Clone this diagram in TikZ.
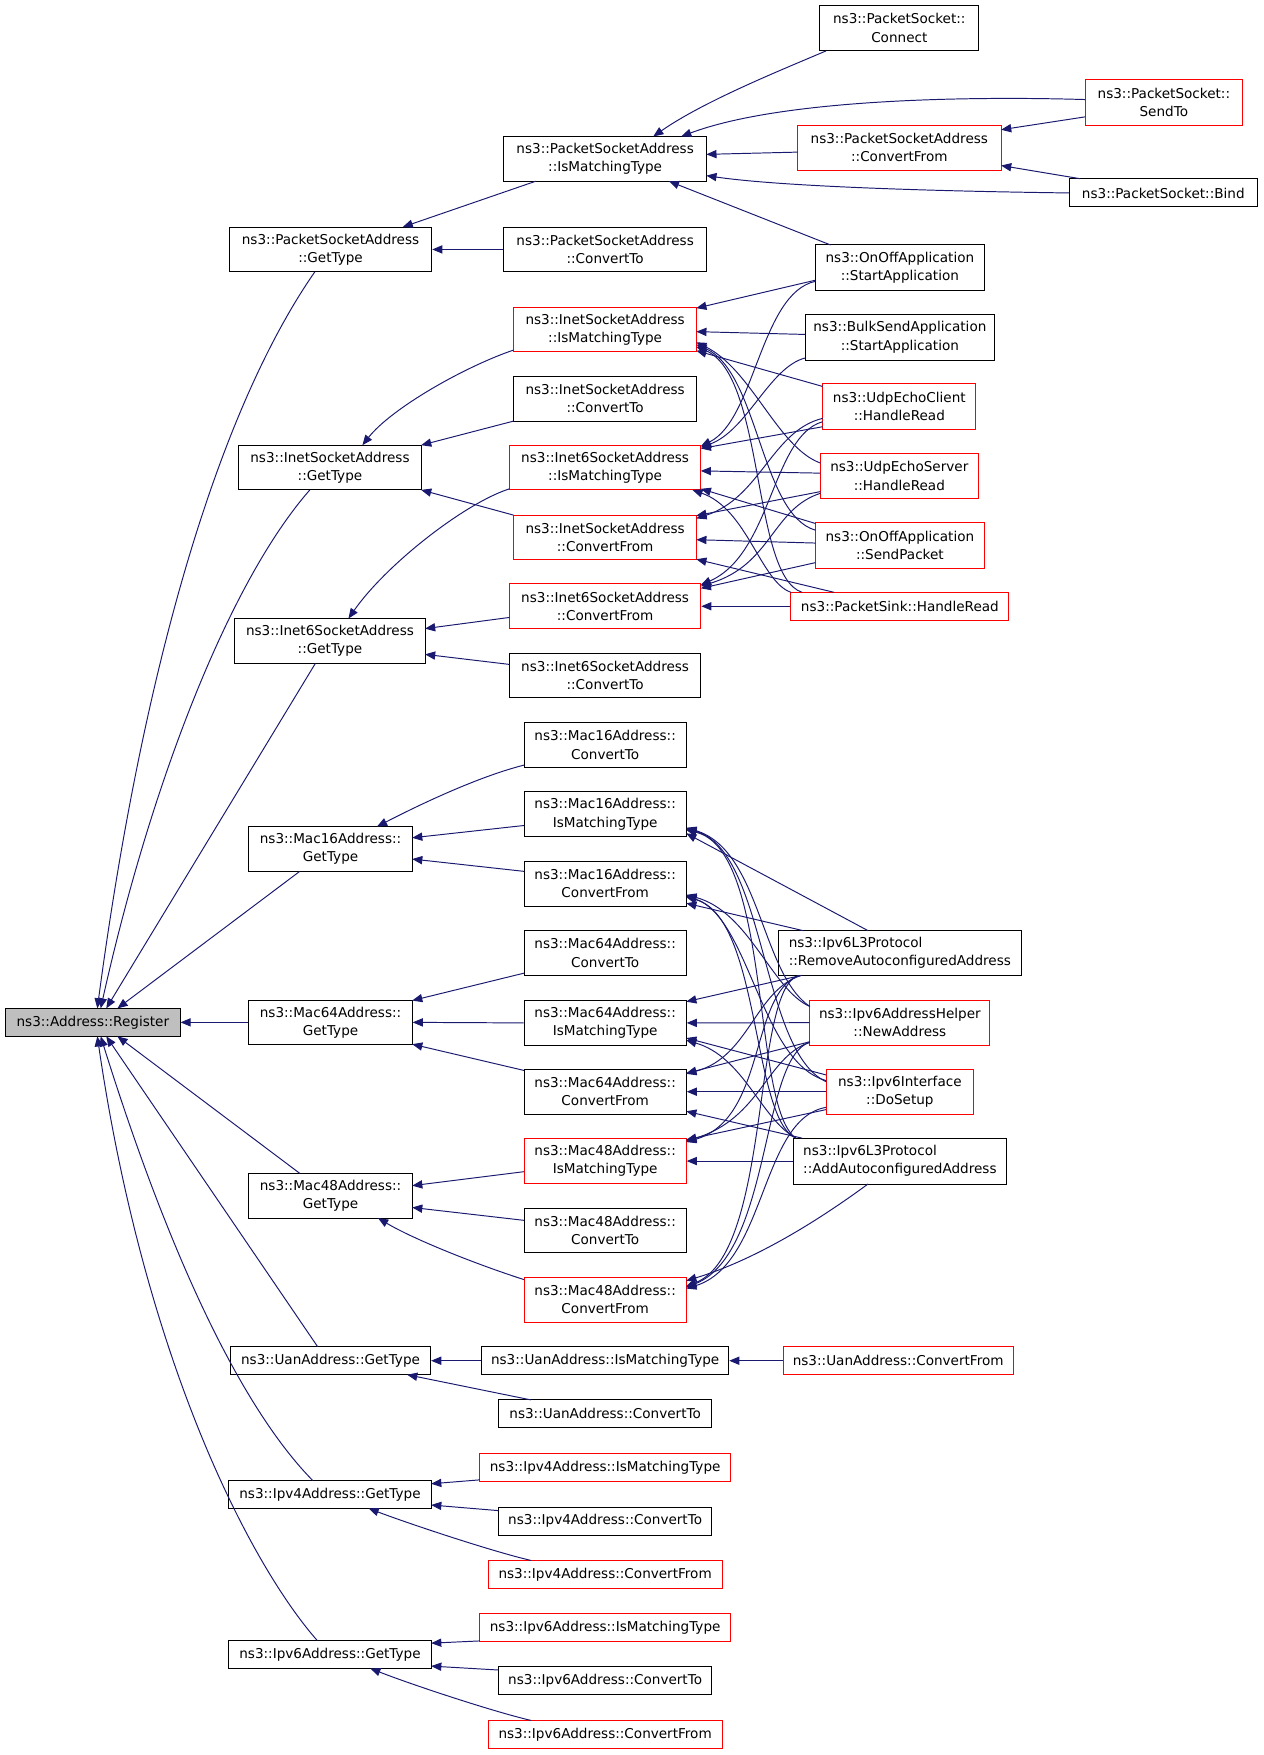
\documentclass[tikz,border=0pt]{standalone}
\usepackage{fontspec}
\setmainfont{DejaVu Sans}
\usetikzlibrary{arrows.meta,calc}
\definecolor{mblue}{HTML}{191970}
\definecolor{regfill}{HTML}{BFBFBF}
\tikzset{
  fn/.style={rectangle, draw=black, line width=0.65pt, inner sep=0pt, align=center, font=\fontsize{9.1}{12.2}\selectfont},
  fr/.style={fn, draw=red},
  sz/.style 2 args={minimum width=#1*0.75pt, minimum height=#2*0.75pt},
  cg/.style={mblue, line width=0.65pt, -{Triangle[length=6.8pt,width=5.5pt]}},
}
\begin{document}
\begin{tikzpicture}[x=0.75pt,y=-0.75pt]
\path[use as bounding box, fill=white] (0,0) rectangle (1130,1569);

% ---- root
\node[fn,sz={156}{25},fill=regfill] (reg) at (83,914) {ns3::Address::Register};

% ---- level 1
\node[fn,sz={181}{40}] (psaGT) at (295.5,223) {ns3::PacketSocketAddress\\::GetType};
\node[fn,sz={163}{40}] (isaGT) at (295,418) {ns3::InetSocketAddress\\::GetType};
\node[fn,sz={170}{40}] (i6saGT) at (295,573) {ns3::Inet6SocketAddress\\::GetType};
\node[fn,sz={146}{40}] (m16GT) at (295.5,759) {ns3::Mac16Address::\\GetType};
\node[fn,sz={146}{40}] (m64GT) at (295.5,914) {ns3::Mac64Address::\\GetType};
\node[fn,sz={146}{40}] (m48GT) at (295.5,1069) {ns3::Mac48Address::\\GetType};
\node[fn,sz={179}{25}] (uanGT) at (295.5,1216.5) {ns3::UanAddress::GetType};
\node[fn,sz={181}{25}] (ip4GT) at (295,1336) {ns3::Ipv4Address::GetType};
\node[fn,sz={181}{25}] (ip6GT) at (295,1479) {ns3::Ipv6Address::GetType};

% ---- level 2
\node[fn,sz={181}{40}] (psaIM) at (541,142) {ns3::PacketSocketAddress\\::IsMatchingType};
\node[fn,sz={181}{40}] (psaCT) at (541,223) {ns3::PacketSocketAddress\\::ConvertTo};
\node[fr,sz={163}{40}] (isaIM) at (541,294.5) {ns3::InetSocketAddress\\::IsMatchingType};
\node[fn,sz={163}{40}] (isaCT) at (541,356.5) {ns3::InetSocketAddress\\::ConvertTo};
\node[fr,sz={171}{40}] (i6saIM) at (541,418) {ns3::Inet6SocketAddress\\::IsMatchingType};
\node[fr,sz={163}{40}] (isaCF) at (541,480.5) {ns3::InetSocketAddress\\::ConvertFrom};
\node[fr,sz={171}{40}] (i6saCF) at (541,542) {ns3::Inet6SocketAddress\\::ConvertFrom};
\node[fn,sz={171}{40}] (i6saCT) at (541,604) {ns3::Inet6SocketAddress\\::ConvertTo};
\node[fn,sz={145}{40}] (m16CT) at (541,666) {ns3::Mac16Address::\\ConvertTo};
\node[fn,sz={145}{40}] (m16IM) at (541,728) {ns3::Mac16Address::\\IsMatchingType};
\node[fn,sz={145}{40}] (m16CF) at (541,790) {ns3::Mac16Address::\\ConvertFrom};
\node[fn,sz={145}{40}] (m64CT) at (541,852) {ns3::Mac64Address::\\ConvertTo};
\node[fn,sz={145}{40}] (m64IM) at (541,914.5) {ns3::Mac64Address::\\IsMatchingType};
\node[fn,sz={145}{40}] (m64CF) at (541,976) {ns3::Mac64Address::\\ConvertFrom};
\node[fr,sz={145}{40}] (m48IM) at (541,1038) {ns3::Mac48Address::\\IsMatchingType};
\node[fn,sz={145}{40}] (m48CT) at (541,1100) {ns3::Mac48Address::\\ConvertTo};
\node[fr,sz={145}{40}] (m48CF) at (541,1162) {ns3::Mac48Address::\\ConvertFrom};
\node[fn,sz={221}{25}] (uanIM) at (541,1216.5) {ns3::UanAddress::IsMatchingType};
\node[fn,sz={190}{25}] (uanCT) at (541,1264) {ns3::UanAddress::ConvertTo};
\node[fr,sz={224}{25}] (ip4IM) at (541,1312) {ns3::Ipv4Address::IsMatchingType};
\node[fn,sz={191}{25}] (ip4CT) at (541,1360) {ns3::Ipv4Address::ConvertTo};
\node[fr,sz={209}{25}] (ip4CF) at (541,1407.5) {ns3::Ipv4Address::ConvertFrom};
\node[fr,sz={224}{25}] (ip6IM) at (541,1455) {ns3::Ipv6Address::IsMatchingType};
\node[fn,sz={191}{25}] (ip6CT) at (541,1502.5) {ns3::Ipv6Address::ConvertTo};
\node[fr,sz={209}{25}] (ip6CF) at (541,1550.5) {ns3::Ipv6Address::ConvertFrom};

% ---- level 3
\node[fn,sz={142}{41}] (conn) at (804,25) {ns3::PacketSocket::\\Connect};
\node[fr,sz={182}{40}] (psaCF) at (804,132) {ns3::PacketSocketAddress\\::ConvertFrom};
\node[fn,sz={151}{41}] (osa) at (804.5,239.5) {ns3::OnOffApplication\\::StartApplication};
\node[fn,sz={169}{41}] (bsa) at (804.5,301.5) {ns3::BulkSendApplication\\::StartApplication};
\node[fr,sz={137}{41}] (uec) at (804,363.5) {ns3::UdpEchoClient\\::HandleRead};
\node[fr,sz={141}{41}] (ues) at (804,425.5) {ns3::UdpEchoServer\\::HandleRead};
\node[fr,sz={151}{41}] (osp) at (804.5,487.5) {ns3::OnOffApplication\\::SendPacket};
\node[fr,sz={195}{25}] (psh) at (804.5,542) {ns3::PacketSink::HandleRead};
\node[fn,sz={217}{40},align=left] (rem) at (804.5,852) {ns3::Ipv6L3Protocol\\::RemoveAutoconfiguredAddress};
\node[fr,sz={161}{40}] (nad) at (804.5,914.3) {ns3::Ipv6AddressHelper\\::NewAddress};
\node[fr,sz={132}{40}] (dos) at (804.5,976) {ns3::Ipv6Interface\\::DoSetup};
\node[fn,sz={190}{41},align=left] (aad) at (804.5,1038) {ns3::Ipv6L3Protocol\\::AddAutoconfiguredAddress};
\node[fr,sz={206}{25}] (uanCF) at (803,1216.5) {ns3::UanAddress::ConvertFrom};

% ---- level 4
\node[fr,sz={141}{41}] (sendto) at (1040.5,91.5) {ns3::PacketSocket::\\SendTo};
\node[fn,sz={168}{25}] (bind) at (1040,172.5) {ns3::PacketSocket::Bind};

% ---- edges into Register
\draw[cg] ($(psaGT)+(-14,20)$) .. controls (200,360) and (130,580) .. ($(reg)+(4,-12.5)$);
\draw[cg] ($(isaGT)+(-18,20)$) .. controls (205,520) and (135,700) .. ($(reg)+(7,-12.5)$);
\draw[cg] ($(i6saGT)+(-13,20)$) -- ($(reg)+(12,-12.5)$);
\draw[cg] ($(m16GT)+(-27.5,20)$) -- ($(reg)+(22,-12.5)$);
\draw[cg] (m64GT.west) -- (reg.east);
\draw[cg] ($(m48GT)+(-27.5,-20)$) -- ($(reg)+(22,12.5)$);
\draw[cg] ($(uanGT)+(-11.5,-12.5)$) -- ($(reg)+(12,12.5)$);
\draw[cg] ($(ip4GT)+(-15.5,-12.5)$) .. controls (225,1268) and (160,1150) .. ($(reg)+(7,12.5)$);
\draw[cg] ($(ip6GT)+(-11.5,-12.5)$) .. controls (225,1400) and (130,1220) .. ($(reg)+(4,12.5)$);

% ---- edges into level 1
\draw[cg] ($(psaIM)+(-62,20)$) -- ($(psaGT)+(64.5,-20)$);
\draw[cg] (psaCT.west) -- (psaGT.east);
\draw[cg] ($(isaIM)+(-82,18.5)$) .. controls (415,328) and (350,365) .. ($(isaGT)+(29,-20)$);
\draw[cg] ($(isaCT)+(-82,20)$) -- ($(isaGT)+(81.5,-20)$);
\draw[cg] ($(isaCF)+(-82,-20)$) -- ($(isaGT)+(81.5,20)$);
\draw[cg] ($(i6saIM)+(-85.5,19)$) .. controls (415,450) and (345,505) .. ($(i6saGT)+(16.5,-20)$);
\draw[cg] ($(i6saCF)+(-85.5,10)$) -- ($(i6saGT)+(85,-11)$);
\draw[cg] ($(i6saCT)+(-85.5,-10)$) -- ($(i6saGT)+(85,12)$);
\draw[cg] ($(m16CT)+(-72.5,18)$) .. controls (425,695) and (370,722) .. ($(m16GT)+(41.5,-20)$);
\draw[cg] ($(m16IM)+(-72.5,10)$) -- ($(m16GT)+(73,-10)$);
\draw[cg] ($(m16CF)+(-72.5,-11)$) -- ($(m16GT)+(73,9)$);
\draw[cg] ($(m64CT)+(-72.5,18)$) -- ($(m64GT)+(73,-19.5)$);
\draw[cg] (m64IM.west) -- (m64GT.east);
\draw[cg] ($(m64CF)+(-72.5,-19)$) -- ($(m64GT)+(73,19.5)$);
\draw[cg] ($(m48IM)+(-72.5,9.5)$) -- ($(m48GT)+(73,-9)$);
\draw[cg] ($(m48CT)+(-72.5,-9)$) -- ($(m48GT)+(73,10.5)$);
\draw[cg] ($(m48CF)+(-72.5,-18)$) .. controls (425,1130) and (370,1108) .. ($(m48GT)+(42.5,20)$);
\draw[cg] (uanIM.west) -- (uanGT.east);
\draw[cg] ($(uanCT)+(-66.5,-12.5)$) -- ($(uanGT)+(68.5,12.5)$);
\draw[cg] ($(ip4IM)+(-112,11)$) -- ($(ip4GT)+(90.5,-9.5)$);
\draw[cg] ($(ip4CT)+(-95.5,-9.5)$) -- ($(ip4GT)+(90.5,9.5)$);
\draw[cg] ($(ip4CF)+(-66.5,-12.5)$) .. controls (440,1387) and (365,1362) .. ($(ip4GT)+(34.5,12.5)$);
\draw[cg] ($(ip6IM)+(-112,12)$) -- ($(ip6GT)+(90.5,-10)$);
\draw[cg] ($(ip6CT)+(-95.5,-9.5)$) -- ($(ip6GT)+(90.5,10.5)$);
\draw[cg] ($(ip6CF)+(-66.5,-12.5)$) .. controls (440,1530) and (365,1505) .. ($(ip6GT)+(36,12.5)$);

% ---- edges into level 2 (packet socket)
\draw[cg] ($(conn)+(-65.5,20.5)$) .. controls (700,62) and (630,90) .. ($(psaIM)+(43,-20)$);
\draw[cg] ($(sendto)+(-70.5,-2.5)$) .. controls (870,86) and (700,88) .. ($(psaIM)+(68,-20)$);
\draw[cg] ($(psaCF)+(-91,4)$) -- ($(psaIM)+(90.5,-4)$);
\draw[cg] (bind.west) .. controls (840,171) and (700,167) .. ($(psaIM)+(90.5,15)$);
\draw[cg] ($(osa)+(-62,-20.5)$) -- ($(psaIM)+(57,20)$);
\draw[cg] ($(sendto)+(-70.5,13)$) -- ($(psaCF)+(91,-16)$);
\draw[cg] ($(bind)+(-74.5,-12.75)$) -- ($(psaCF)+(91,16)$);
\draw[cg] (uanCF.west) -- (uanIM.east);

% ---- inet socket address
\draw[cg] ($(osa)+(-75.5,11)$) -- ($(isaIM)+(81.5,-19)$);
\draw[cg] ($(bsa)+(-84.5,-2.5)$) -- ($(isaIM)+(81.5,2)$);
\draw[cg] ($(uec)+(-68.5,-18)$) -- ($(isaIM)+(81.5,19)$);
\draw[cg] ($(ues)+(-70.5,-11.5)$) .. controls (695,400) and (672,330) .. ($(isaIM)+(81.5,11.5)$);
\draw[cg] ($(osp)+(-75.5,-13.5)$) .. controls (680,460) and (678,332) .. ($(isaIM)+(81.5,13.5)$);
\draw[cg] ($(psh)+(-87.5,-12.5)$) .. controls (672,515) and (684,335) .. ($(isaIM)+(81.5,15.5)$);

\draw[cg] ($(osa)+(-75.5,12)$) .. controls (680,262) and (675,375) .. ($(i6saIM)+(85.5,-19)$);
\draw[cg] ($(bsa)+(-84.5,18.5)$) .. controls (688,328) and (668,385) .. ($(i6saIM)+(85.5,-18)$);
\draw[cg] ($(uec)+(-68.5,18)$) -- ($(i6saIM)+(85.5,-17)$);
\draw[cg] ($(ues)+(-70.5,-2.5)$) -- ($(i6saIM)+(85.5,3)$);
\draw[cg] ($(osp)+(-75.5,-19.5)$) -- ($(i6saIM)+(85.5,19)$);
\draw[cg] ($(psh)+(-97.5,-12.5)$) .. controls (680,520) and (668,455) .. ($(i6saIM)+(78,20)$);

\draw[cg] ($(uec)+(-68.5,10.5)$) .. controls (690,385) and (680,445) .. ($(isaCF)+(81.5,-17)$);
\draw[cg] ($(ues)+(-70.5,14)$) -- ($(isaCF)+(81.5,-19.5)$);
\draw[cg] ($(osp)+(-75.5,-2)$) -- ($(isaCF)+(81.5,2)$);
\draw[cg] ($(psh)+(-59,-12.5)$) -- ($(isaCF)+(81.5,19.5)$);

\draw[cg] ($(uec)+(-68.5,13.5)$) .. controls (690,390) and (690,495) .. ($(i6saCF)+(85.5,-19)$);
\draw[cg] ($(ues)+(-70.5,15.5)$) .. controls (690,455) and (690,505) .. ($(i6saCF)+(85.5,-18)$);
\draw[cg] ($(osp)+(-75.5,15.5)$) -- ($(i6saCF)+(85.5,-16)$);
\draw[cg] (psh.west) -- (i6saCF.east);

% ---- mac addresses
\draw[cg] ($(rem)+(-28.5,-20)$) -- ($(m16IM)+(72.5,17)$);
\draw[cg] ($(nad)+(-80.5,-14.5)$) .. controls (680,870) and (680,760) .. ($(m16IM)+(72.5,12)$);
\draw[cg] ($(dos)+(-66,-9)$) .. controls (680,940) and (685,760) .. ($(m16IM)+(72.5,13)$);
\draw[cg] ($(aad)+(-93,-20.5)$) .. controls (672,990) and (690,760) .. ($(m16IM)+(72.5,14)$);

\draw[cg] ($(rem)+(-86.5,-20)$) -- ($(m16CF)+(72.5,17.5)$);
\draw[cg] ($(nad)+(-80.5,-14.5)$) .. controls (690,885) and (670,815) .. ($(m16CF)+(72.5,10)$);
\draw[cg] ($(dos)+(-66,-10)$) .. controls (680,950) and (670,820) .. ($(m16CF)+(72.5,11)$);
\draw[cg] ($(aad)+(-93,-20.5)$) .. controls (672,1000) and (680,820) .. ($(m16CF)+(72.5,12)$);

\draw[cg] ($(rem)+(-88,20)$) -- ($(m64IM)+(72.5,-19)$);
\draw[cg] (nad.west) -- (m64IM.east);
\draw[cg] ($(dos)+(-66,-15)$) -- ($(m64IM)+(72.5,13.5)$);
\draw[cg] ($(aad)+(-93,-20.5)$) .. controls (680,1000) and (665,945) .. ($(m64IM)+(72.5,15.5)$);

\draw[cg] ($(rem)+(-88,20)$) .. controls (675,885) and (670,945) .. ($(m64CF)+(72.5,-16)$);
\draw[cg] ($(nad)+(-80.5,17)$) -- ($(m64CF)+(72.5,-16.5)$);
\draw[cg] (dos.west) -- (m64CF.east);
\draw[cg] ($(aad)+(-87.5,-20.5)$) -- ($(m64CF)+(72.5,17.5)$);

\draw[cg] ($(rem)+(-90.5,20)$) .. controls (670,890) and (685,1000) .. ($(m48IM)+(72.5,-17)$);
\draw[cg] ($(nad)+(-80.5,17.5)$) .. controls (685,945) and (680,1000) .. ($(m48IM)+(72.5,-18)$);
\draw[cg] ($(dos)+(-66,16)$) -- ($(m48IM)+(72.5,-19)$);
\draw[cg] (aad.west) -- (m48IM.east);

\draw[cg] ($(aad)+(-28.5,20.5)$) .. controls (740,1085) and (680,1125) .. ($(m48CF)+(72.5,-17)$);
\draw[cg] ($(rem)+(-90.5,20)$) .. controls (672,885) and (690,1120) .. ($(m48CF)+(72.5,-12)$);
\draw[cg] ($(nad)+(-80.5,17.5)$) .. controls (680,945) and (690,1120) .. ($(m48CF)+(72.5,-11)$);
\draw[cg] ($(dos)+(-66,14)$) .. controls (680,1000) and (685,1130) .. ($(m48CF)+(72.5,-10)$);
\end{tikzpicture}
\end{document}
